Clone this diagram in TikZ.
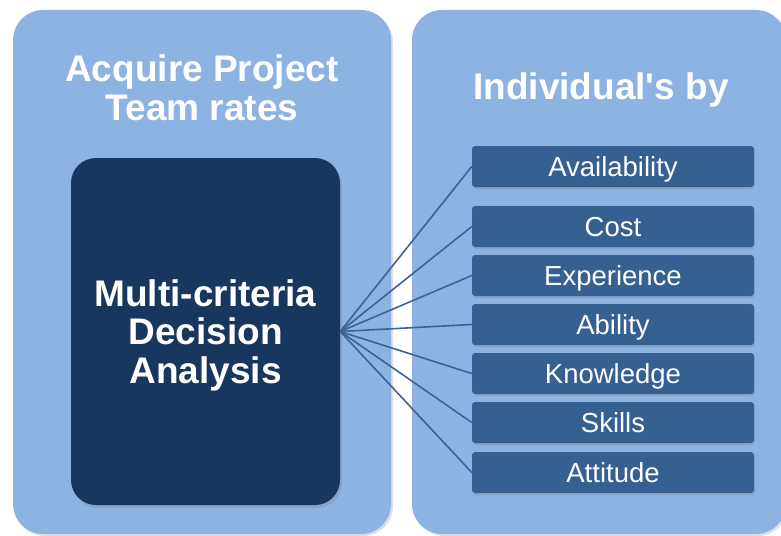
\documentclass[tikz,border=0pt]{standalone}
\usepackage{fontspec}
\setmainfont{Liberation Sans}
\usetikzlibrary{positioning, shadows}

\definecolor{panelblue}{RGB}{141,179,226}
\definecolor{darkblue}{RGB}{23,55,94}
\definecolor{critblue}{RGB}{54,96,146}
\definecolor{linkblue}{RGB}{60,99,146}

\begin{document}
\begin{tikzpicture}[x=1pt, y=-1pt]
	\useasboundingbox (0, 0) rectangle (781, 535);
	\begin{scope}
		\tikzstyle{every node}=[align=center, inner sep=1pt, text=white]
		\tikzstyle{panel}=[fill=panelblue, rounded corners=30pt, minimum height=524pt, drop shadow={opacity=0.25, shadow xshift=2pt, shadow yshift=-2pt}]
		\tikzstyle{title}=[font=\fontsize{37}{38.5}\selectfont\bfseries]
		\tikzstyle{mcdabox}=[title, fill=darkblue, rounded corners=25pt, minimum width=269pt, minimum height=347pt, text depth=0pt, drop shadow={opacity=0.3, shadow xshift=2pt, shadow yshift=-3pt}]
		\tikzstyle{crit}=[fill=critblue, rounded corners=3pt, minimum width=282pt, minimum height=41pt, text height=20pt, text depth=0pt, font=\fontsize{27.5}{30}\selectfont, drop shadow={opacity=0.3, shadow xshift=1pt, shadow yshift=-2pt}]

		\node [panel, minimum width=378pt] (team) at (202, 272) {};
		\node [panel, minimum width=374pt] (indiv) at (599, 272) {};

		\node [title] (teamt) at (202, 88) {Acquire Project\\Team rates};
		\node [title] (indivt) at (601, 90) {Individual\textquotesingle s by};

		\node [mcdabox] (mcda) at (205.5, 331.5) {Multi-criteria\\Decision\\Analysis};

		\node [crit] (avail) at (613, 166.5) {Availability};
		\node [crit] (cost) at (613, 226.5) {Cost};
		\node [crit] (exp) at (613, 275.5) {Experience};
		\node [crit] (abil) at (613, 324.5) {Ability};
		\node [crit] (know) at (613, 373.5) {Knowledge};
		\node [crit] (skill) at (613, 422.5) {Skills};
		\node [crit] (att) at (613, 472.5) {Attitude};

		\tikzstyle{every path}=[draw=linkblue, line width=1.6pt]
		\draw [] (mcda.east) to (avail.west);
		\draw [] (mcda.east) to (cost.west);
		\draw [] (mcda.east) to (exp.west);
		\draw [] (mcda.east) to (abil.west);
		\draw [] (mcda.east) to (know.west);
		\draw [] (mcda.east) to (skill.west);
		\draw [] (mcda.east) to (att.west);
	\end{scope}
\end{tikzpicture}
\end{document}
